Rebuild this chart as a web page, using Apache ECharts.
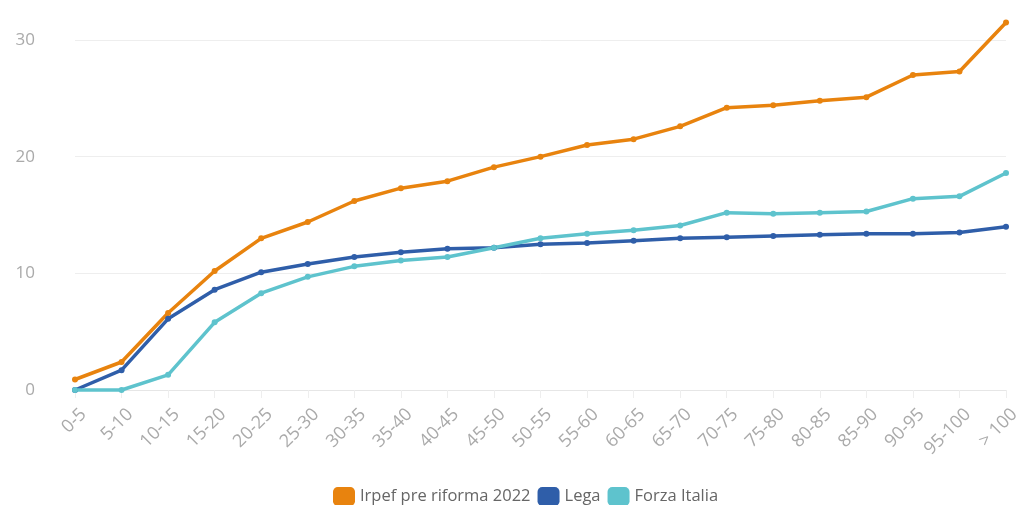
<!DOCTYPE html>
<html>
<head>
<meta charset="utf-8">
<script src="https://cdn.jsdelivr.net/npm/echarts@6/dist/echarts.min.js"></script>
<style>html,body{margin:0;padding:0;background:#fff}#c{width:1023px;height:505px}</style>
</head>
<body>
<div id="c"></div>
<script>
const categories = ['0-5','5-10','10-15','15-20','20-25','25-30','30-35','35-40','40-45','45-50','50-55','55-60','60-65','65-70','70-75','75-80','80-85','85-90','90-95','95-100','> 100'];
const irpef = [0.9, 2.4, 6.6, 10.2, 13.0, 14.4, 16.2, 17.3, 17.9, 19.1, 20.0, 21.0, 21.5, 22.6, 24.2, 24.4, 24.8, 25.1, 27.0, 27.3, 31.5];
const lega = [0, 1.7, 6.1, 8.6, 10.1, 10.8, 11.4, 11.8, 12.1, 12.2, 12.5, 12.6, 12.8, 13.0, 13.1, 13.2, 13.3, 13.4, 13.4, 13.5, 14.0];
const forza = [0, 0, 1.3, 5.8, 8.3, 9.7, 10.6, 11.1, 11.4, 12.2, 13.0, 13.4, 13.7, 14.1, 15.2, 15.1, 15.2, 15.3, 16.4, 16.6, 18.6];
const yTicks = [0, 10, 20, 30];

const chart = echarts.init(document.getElementById('c'));
const font = '"Open Sans", sans-serif';
function mk(name, data, color) {
  return {
    name, type: 'line', data, clip: false,
    symbol: 'circle', symbolSize: 6, showSymbol: true,
    lineStyle: { width: 3.5, color },
    itemStyle: { color },
    emphasis: { disabled: true }
  };
}
chart.setOption({
  animation: false,
  textStyle: { fontFamily: font },
  grid: { left: 75, right: 15, top: 40, bottom: 115 },
  legend: {
    top: 482, left: 328,
    icon: 'roundRect', itemWidth: 22, itemHeight: 19, itemGap: 7,
    textStyle: { color: '#666', fontSize: 16.5, fontFamily: font },
    data: ['Irpef pre riforma 2022', 'Lega', 'Forza Italia']
  },
  xAxis: {
    type: 'category', data: categories, boundaryGap: false,
    axisLine: { lineStyle: { color: '#e6e6e6' } },
    axisTick: { show: true, length: 8, lineStyle: { color: '#eeeeee' } },
    axisLabel: { rotate: 45, color: '#aaaaaa', fontSize: 18, margin: 30, padding: [0, -12, 0, 0], fontFamily: font }
  },
  yAxis: {
    type: 'value', min: yTicks[0], max: yTicks[yTicks.length - 1], interval: 10,
    axisLine: { show: false }, axisTick: { show: false },
    splitLine: { lineStyle: { color: '#eeeeee' } },
    axisLabel: { color: '#aaaaaa', fontSize: 17, margin: 40, fontFamily: font }
  },
  series: [
    mk('Irpef pre riforma 2022', irpef, '#e8830e'),
    mk('Lega', lega, '#2f5ea9'),
    mk('Forza Italia', forza, '#5ec3cd')
  ]
});
</script>
</body>
</html>
